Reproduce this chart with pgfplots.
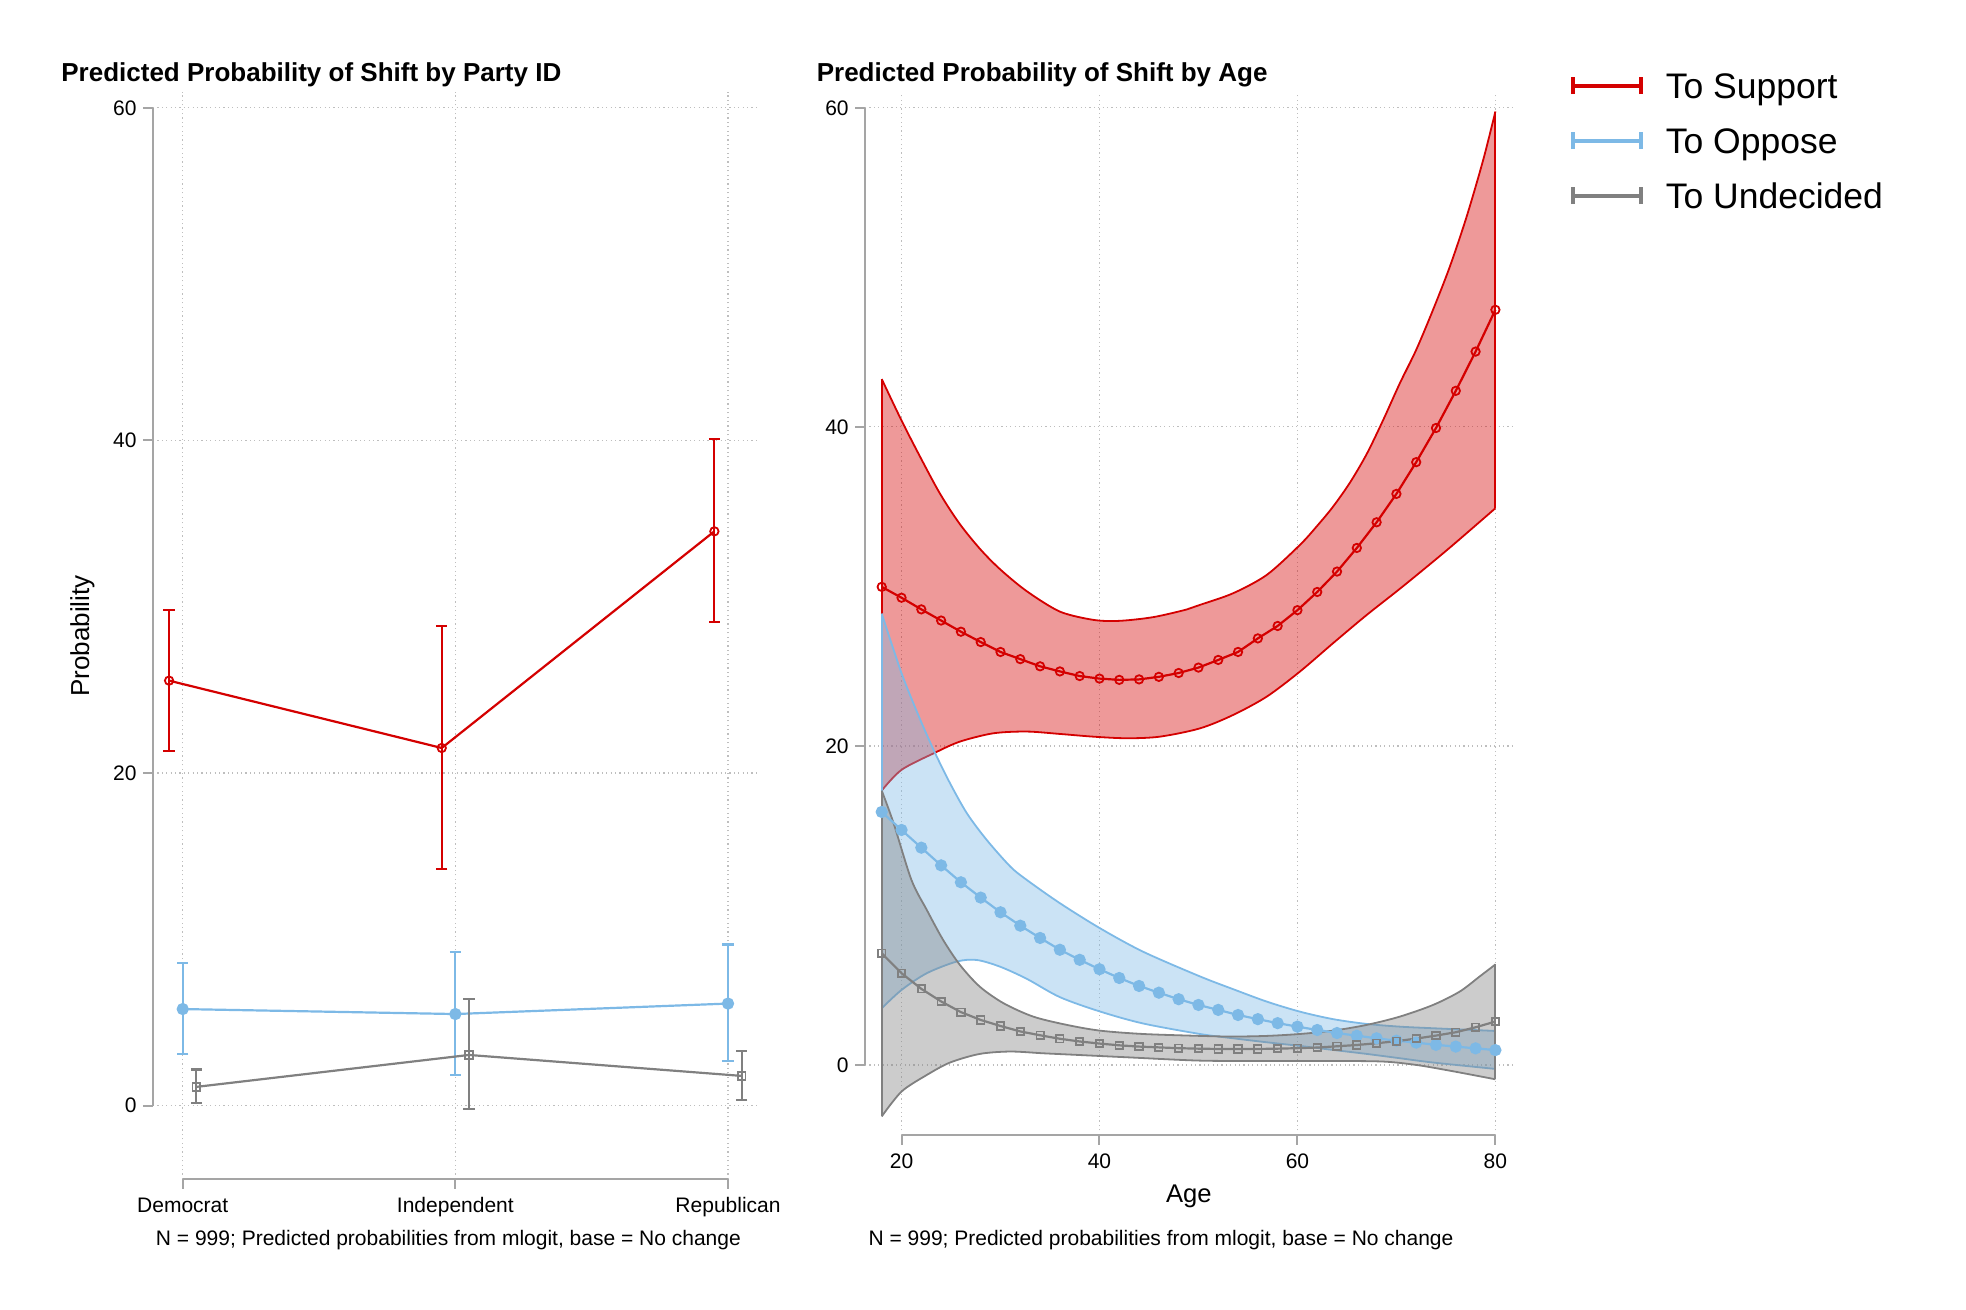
\documentclass[border=0pt]{standalone}
\usepackage{fontspec}
\setmainfont{Liberation Sans}
\usepackage{pgfplots}
\pgfplotsset{compat=1.18}
\usepackage{pgfplotstable}

\definecolor{cred}{RGB}{212,0,0}
\definecolor{cblue}{RGB}{125,185,230}
\definecolor{cgray}{RGB}{128,128,128}
\definecolor{caxis}{RGB}{165,165,165}
\definecolor{cgrid}{RGB}{190,190,190}

% ---------- Party ID panel ----------
\pgfplotstableread{
x y lo hi
0.95 25.55 21.30 29.79
1.95 21.50 14.21 28.84
2.95 34.53 29.09 40.06
}\partyred
\pgfplotstableread{
x y lo hi
1 5.80 3.10 8.59
2 5.50 1.83 9.22
3 6.13 2.66 9.68
}\partyblue
\pgfplotstableread{
x y lo hi
1.05 1.12 0.13 2.16
2.05 3.04 -0.22 6.39
3.05 1.78 0.34 3.27
}\partygray

% ---------- Age panel: predicted values ----------
\pgfplotstableread{
age y
18 29.97
20 29.29
22 28.56
24 27.86
26 27.16
28 26.51
30 25.89
32 25.44
34 24.99
36 24.67
38 24.38
40 24.22
42 24.14
44 24.17
46 24.33
48 24.57
50 24.91
52 25.39
54 25.89
56 26.74
58 27.52
60 28.51
62 29.65
64 30.93
66 32.41
68 34.02
70 35.80
72 37.79
74 39.93
76 42.26
78 44.72
80 47.34
}\agered
\pgfplotstableread{
age y
18 15.86
20 14.73
22 13.62
24 12.51
26 11.45
28 10.49
30 9.57
32 8.73
34 7.96
36 7.22
38 6.59
40 6.00
42 5.45
44 4.95
46 4.53
48 4.12
50 3.76
52 3.45
54 3.13
56 2.87
58 2.62
60 2.40
62 2.19
64 2.00
66 1.83
68 1.67
70 1.52
72 1.40
74 1.26
76 1.15
78 1.04
80 0.93
}\ageblue
\pgfplotstableread{
age y
18 7.00
20 5.75
22 4.77
24 3.98
26 3.31
28 2.82
30 2.44
32 2.10
34 1.86
36 1.64
38 1.47
40 1.34
42 1.23
44 1.15
46 1.10
48 1.05
50 1.02
52 1.00
54 1.00
56 1.00
58 1.02
60 1.05
62 1.09
64 1.17
66 1.25
68 1.36
70 1.49
72 1.65
74 1.84
76 2.05
78 2.36
80 2.72
}\agegray

% ---------- Age panel: confidence band edges ----------
\pgfplotstableread{
age y
18 43.00
20 40.40
21.9 38.10
23.9 35.80
25.9 33.90
28 32.30
30 31.05
32.65 29.70
36 28.42
39.4 27.90
42 27.84
45.4 28.07
48.8 28.55
50.15 28.84
53.5 29.57
56.9 30.72
60.25 32.60
62 33.80
63.6 35.00
65.3 36.50
67 38.30
68.67 40.44
70.35 42.74
72 44.83
73.7 47.34
75.4 50.05
77.1 53.19
78.77 56.74
80 59.77
}\redU
\pgfplotstableread{
age y
18 17.20
20 18.50
23.4 19.58
25.9 20.27
29.27 20.79
32.65 20.90
36 20.75
39.37 20.58
42.75 20.48
46.1 20.58
50.15 21.10
53.5 21.94
56.9 23.09
60.25 24.66
63.6 26.44
67 28.21
70.35 29.85
73.7 31.55
76 32.75
80 34.90
}\redL
\pgfplotstableread{
age y
18 28.30
20 24.56
21.9 21.63
23.4 19.54
24.9 17.66
26.6 15.78
28.6 14.11
31 12.43
32.65 11.60
36 10.14
40.05 8.57
44.4 7.10
50.15 5.55
53.5 4.75
56.9 3.97
60.25 3.34
63.6 2.87
67 2.57
70.35 2.40
73.7 2.30
80 2.13
}\blueU
\pgfplotstableread{
age y
18 3.55
20 4.70
22.55 5.75
25.57 6.48
27.6 6.58
29.95 6.16
32.65 5.40
36 4.25
40.05 3.35
44.4 2.60
50.15 1.94
53.5 1.67
56.9 1.42
60.25 1.19
63.6 0.94
67 0.69
70.35 0.42
73.7 0.15
80 -0.25
}\blueL
\pgfplotstableread{
age y
18 17.20
19.2 15.15
21 11.60
22.55 9.72
24.2 7.84
25.9 6.27
27.9 4.91
30.3 3.87
33.3 3.03
36.7 2.51
40.05 2.15
44.4 1.94
50.15 1.82
53.5 1.78
56.9 1.82
60.25 1.94
63.6 2.15
67 2.51
70.35 3.03
73.7 3.76
76.4 4.60
78.4 5.54
80 6.30
}\grayU
\pgfplotstableread{
age y
18 -3.23
20 -1.67
22.55 -0.63
24.9 0.15
27.9 0.69
31 0.84
34.3 0.73
37.7 0.63
42.75 0.48
50.15 0.27
56.9 0.25
63.6 0.25
68.7 0.21
72 0.00
75.4 -0.36
80 -0.90
}\grayL

% ---------- Band areas (upper 18->80, then lower 80->18) ----------
\pgfplotstableread{
age y
18 43.00
20 40.40
21.9 38.10
23.9 35.80
25.9 33.90
28 32.30
30 31.05
32.65 29.70
36 28.42
39.4 27.90
42 27.84
45.4 28.07
48.8 28.55
50.15 28.84
53.5 29.57
56.9 30.72
60.25 32.60
62 33.80
63.6 35.00
65.3 36.50
67 38.30
68.67 40.44
70.35 42.74
72 44.83
73.7 47.34
75.4 50.05
77.1 53.19
78.77 56.74
80 59.77
80 34.90
76 32.75
73.7 31.55
70.35 29.85
67 28.21
63.6 26.44
60.25 24.66
56.9 23.09
53.5 21.94
50.15 21.10
46.1 20.58
42.75 20.48
39.37 20.58
36 20.75
32.65 20.90
29.27 20.79
25.9 20.27
23.4 19.58
20 18.50
18 17.20
}\bandred
\pgfplotstableread{
age y
18 28.30
20 24.56
21.9 21.63
23.4 19.54
24.9 17.66
26.6 15.78
28.6 14.11
31 12.43
32.65 11.60
36 10.14
40.05 8.57
44.4 7.10
50.15 5.55
53.5 4.75
56.9 3.97
60.25 3.34
63.6 2.87
67 2.57
70.35 2.40
73.7 2.30
80 2.13
80 -0.25
73.7 0.15
70.35 0.42
67 0.69
63.6 0.94
60.25 1.19
56.9 1.42
53.5 1.67
50.15 1.94
44.4 2.60
40.05 3.35
36 4.25
32.65 5.40
29.95 6.16
27.6 6.58
25.57 6.48
22.55 5.75
20 4.70
18 3.55
}\bandblue
\pgfplotstableread{
age y
18 17.20
19.2 15.15
21 11.60
22.55 9.72
24.2 7.84
25.9 6.27
27.9 4.91
30.3 3.87
33.3 3.03
36.7 2.51
40.05 2.15
44.4 1.94
50.15 1.82
53.5 1.78
56.9 1.82
60.25 1.94
63.6 2.15
67 2.51
70.35 3.03
73.7 3.76
76.4 4.60
78.4 5.54
80 6.30
80 -0.90
75.4 -0.36
72 0.00
68.7 0.21
63.6 0.25
56.9 0.25
50.15 0.27
42.75 0.48
37.7 0.63
34.3 0.73
31 0.84
27.9 0.69
24.9 0.15
22.55 -0.63
20 -1.67
18 -3.23
}\bandgray

\pgfplotsset{
  base/.style={
    scale only axis,
    clip=false,
    axis x line*=bottom, axis y line*=left,
    axis line style={draw=none,-},
    tick align=outside, major tick length=5bp,
    tick style={caxis, line width=1bp},
    grid=major,
    grid style={cgrid, line width=0.6bp, dash pattern=on 0.6bp off 1.6bp},
    tick label style={font=\fontsize{10.5bp}{12bp}\selectfont},
    /pgf/number format/assume math mode=true,
    xticklabel style={inner sep=0pt, yshift=-4.1bp},
    yticklabel style={inner sep=0pt, xshift=-3bp},
    ytick={0,20,40,60},
  },
  edge/.style={line width=0.9bp, mark=none, smooth, forget plot},
  bandfill/.style={draw=none, fill opacity=0.4, mark=none, forget plot},
}

\begin{document}
\begin{tikzpicture}
\path[use as bounding box] (0,0) rectangle (983bp,655bp);

% ===== Left panel =====
\begin{axis}[base,
  at={(76.5bp,65.5bp)}, anchor=south west,
  width=302.5bp, height=543.5bp,
  xmin=0.891, xmax=3.110, ymin=-4.42, ymax=60.95,
  xtick={1,2,3}, xticklabels={Democrat,Independent,Republican},
]
\draw[caxis, line width=1bp] (axis cs:0.891,0) -- (axis cs:0.891,60);
\draw[caxis, line width=1bp] (axis cs:1,-4.42) -- (axis cs:3,-4.42);

\addplot[cred, line width=1.1bp, mark=o, mark size=2.1bp, mark options={line width=0.9bp},
  error bars/.cd, y dir=both, y explicit,
  error bar style={cred, line width=1.1bp},
  error mark options={rotate=90, cred, mark size=2.8bp, line width=1.1bp}]
  table[x=x, y=y, y error plus expr=\thisrow{hi}-\thisrow{y}, y error minus expr=\thisrow{y}-\thisrow{lo}] {\partyred};
\addplot[cblue, line width=1.1bp, mark=*, mark size=2.5bp, mark options={fill=cblue},
  error bars/.cd, y dir=both, y explicit,
  error bar style={cblue, line width=1.1bp},
  error mark options={rotate=90, cblue, mark size=2.8bp, line width=1.1bp}]
  table[x=x, y=y, y error plus expr=\thisrow{hi}-\thisrow{y}, y error minus expr=\thisrow{y}-\thisrow{lo}] {\partyblue};
\addplot[cgray, line width=1.1bp, mark=square, mark size=1.9bp, mark options={line width=0.9bp},
  error bars/.cd, y dir=both, y explicit,
  error bar style={cgray, line width=1.1bp},
  error mark options={rotate=90, cgray, mark size=2.8bp, line width=1.1bp}]
  table[x=x, y=y, y error plus expr=\thisrow{hi}-\thisrow{y}, y error minus expr=\thisrow{y}-\thisrow{lo}] {\partygray};
\end{axis}

% ===== Right panel =====
\begin{axis}[base,
  at={(432.5bp,87.6bp)}, anchor=south west,
  width=323.75bp, height=520.4bp,
  xmin=16.31, xmax=81.73, ymin=-4.38, ymax=60.87,
  xtick={20,40,60,80},
  legend image code/.code={
    \draw[line width=2bp,#1] (0bp,0bp) -- (33.8bp,0bp);
    \draw[line width=2bp,#1] (0bp,-4.2bp) -- (0bp,4.2bp);
    \draw[line width=2bp,#1] (33.8bp,-4.2bp) -- (33.8bp,4.2bp);
    \path (46bp,0bp);
  },
  legend style={at={(axis description cs:1.0910,1.0203)}, anchor=north west,
    draw=none, fill=none, inner sep=0pt, outer sep=0pt, row sep=14.6bp,
    font=\fontsize{17.75bp}{20bp}\selectfont,
    nodes={inner sep=0pt, text height=12.9bp, text depth=0bp}},
  legend cell align=left,
]
\draw[caxis, line width=1bp] (axis cs:16.31,0) -- (axis cs:16.31,60);
\draw[caxis, line width=1bp] (axis cs:20,-4.38) -- (axis cs:80,-4.38);

% red band
\addplot[bandfill, fill=cred] table[x=age, y=y] {\bandred} -- cycle;
\addplot[edge, cred] table[x=age, y=y] {\redU};
\addplot[edge, cred] table[x=age, y=y] {\redL};
\addplot[cred, line width=0.9bp, forget plot] coordinates {(18,43.00) (18,17.20)};
\addplot[cred, line width=0.9bp, forget plot] coordinates {(80,59.77) (80,34.90)};
% blue band
\addplot[bandfill, fill=cblue] table[x=age, y=y] {\bandblue} -- cycle;
\addplot[edge, cblue] table[x=age, y=y] {\blueU};
\addplot[edge, cblue] table[x=age, y=y] {\blueL};
\addplot[cblue, line width=0.9bp, forget plot] coordinates {(18,28.30) (18,3.55)};
\addplot[cblue, line width=0.9bp, forget plot] coordinates {(80,2.13) (80,-0.25)};
% gray band
\addplot[bandfill, fill=cgray] table[x=age, y=y] {\bandgray} -- cycle;
\addplot[edge, cgray] table[x=age, y=y] {\grayU};
\addplot[edge, cgray] table[x=age, y=y] {\grayL};
\addplot[cgray, line width=0.9bp, forget plot] coordinates {(18,17.20) (18,-3.23)};
\addplot[cgray, line width=0.9bp, forget plot] coordinates {(80,6.30) (80,-0.90)};

\addplot[forget plot, cred, line width=1.1bp, mark=o, mark size=2.1bp, mark options={line width=0.9bp}]
  table[x=age, y=y] {\agered};
\addplot[forget plot, cblue, line width=1.1bp, mark=*, mark size=2.5bp, mark options={fill=cblue}]
  table[x=age, y=y] {\ageblue};
\addplot[forget plot, cgray, line width=1.1bp, mark=square, mark size=1.85bp, mark options={line width=0.9bp}]
  table[x=age, y=y] {\agegray};

\addlegendimage{cred}
\addlegendentry{To Support}
\addlegendimage{cblue}
\addlegendentry{To Oppose}
\addlegendimage{cgray}
\addlegendentry{To Undecided}
\end{axis}

% ===== Titles, labels, notes =====
\node[anchor=base west, inner sep=0pt, font=\fontsize{13bp}{15bp}\selectfont\bfseries] at (30.5bp,614.15bp) {Predicted Probability of Shift by Party ID};
\node[anchor=base west, inner sep=0pt, font=\fontsize{13bp}{15bp}\selectfont\bfseries] at (408.2bp,614.15bp) {Predicted Probability of Shift by Age};
\node[anchor=base, rotate=90, inner sep=0pt, font=\fontsize{13bp}{15bp}\selectfont] at (44.5bp,337bp) {Probability};
\node[anchor=base, inner sep=0pt, font=\fontsize{12.8bp}{15bp}\selectfont] at (594.4bp,53.5bp) {Age};
\node[anchor=base, inner sep=0pt, font=\fontsize{10.5bp}{12bp}\selectfont] at (224.2bp,32.25bp) {N = 999; Predicted probabilities from mlogit, base = No change};
\node[anchor=base, inner sep=0pt, font=\fontsize{10.5bp}{12bp}\selectfont] at (580.5bp,32.25bp) {N = 999; Predicted probabilities from mlogit, base = No change};
\end{tikzpicture}
\end{document}
